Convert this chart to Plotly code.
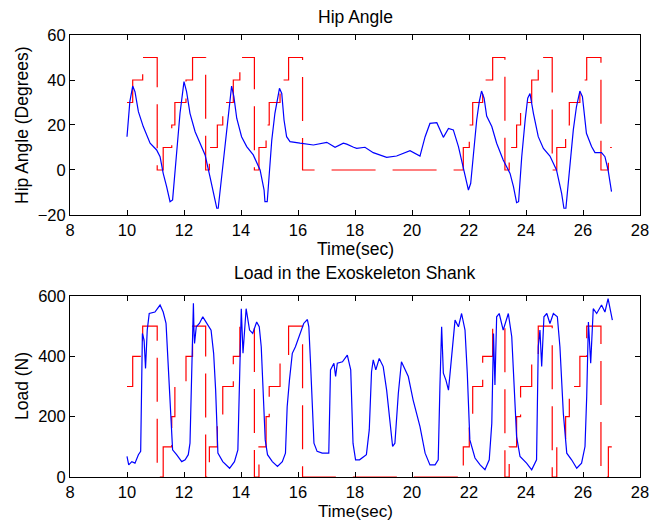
import plotly.graph_objects as go

# ---------------- data ----------------
# Hip angle (deg) vs time (s)
hip_t = [10.0, 10.05, 10.1, 10.2, 10.28, 10.4, 10.57, 10.81, 11.04, 11.16, 11.27, 11.39, 11.51, 11.6,
         11.68, 11.77, 11.86, 12.0, 12.09, 12.21, 12.39, 12.56, 12.74, 12.91, 13.09, 13.15, 13.2,
         13.32, 13.44, 13.56, 13.67, 13.75, 13.85, 14.02, 14.2, 14.43, 14.67, 14.81, 14.84, 14.92,
         14.99, 15.08, 15.19, 15.35, 15.43, 15.51, 15.6, 15.72, 16.07, 16.54, 17.01, 17.3, 17.59,
         17.71, 17.95, 18.06, 18.35, 18.64, 19.11, 19.46, 19.93, 20.28, 20.46, 20.63, 20.87, 20.98,
         21.1, 21.28, 21.45, 21.63, 21.8, 21.98, 22.06, 22.15, 22.27, 22.36, 22.44, 22.53, 22.62,
         22.8, 22.97, 23.2, 23.44, 23.56, 23.67, 23.74, 23.85, 23.97, 24.06, 24.14, 24.26, 24.43,
         24.61, 24.84, 25.07, 25.25, 25.33, 25.4, 25.54, 25.66, 25.77, 25.89, 25.98, 26.12, 26.3,
         26.42, 26.65, 26.77, 26.88, 27.0]
hip_deg = [14.8, 23.7, 30.4, 37.3, 34.8, 25.9, 19.3, 11.9, 8.9, 5.9, -1.5, -7.4, -14.1, -13.3,
           -3.0, 11.9, 25.2, 39.3, 34.8, 25.2, 17.0, 11.9, 6.7, -3.0, -13.3, -17.0, -17.0,
           -3.0, 13.3, 26.7, 37.3, 32.6, 23.0, 14.8, 10.4, 6.7, 0.0, -8.9, -14.1, -14.1,
           -1.5, 13.3, 25.2, 36.3, 34.0, 22.2, 14.8, 12.6, 11.9, 11.1, 12.3, 10.1, 11.9,
           11.5, 10.1, 9.6, 10.1, 7.7, 5.6, 6.2, 8.6, 6.2, 14.8, 20.7, 21.0, 17.8,
           14.5, 18.5, 17.8, 10.4, 1.5, -8.9, -5.9, 5.9, 22.2, 30.4, 35.1, 31.9, 24.0,
           19.3, 11.9, 4.4, -1.5, -7.4, -14.5, -14.1, 5.9, 22.2, 31.9, 34.0, 25.2, 14.8,
           9.6, 6.2, 0.0, -10.4, -17.0, -17.0, 3.0, 17.8, 28.1, 35.1, 32.6, 16.3, 10.4,
           7.7, 7.7, 5.9, 0.0, -9.6]

# Commanded hip angle (step profile)
hip_cmd_t = [10.0, 10.2, 10.55, 11.06, 11.27, 11.57, 11.68, 12.07, 12.3, 12.76, 12.89, 13.17, 13.36,
             13.73, 13.96, 14.47, 14.63, 14.88, 14.99, 15.37, 15.67, 16.16, 21.8, 22.01, 22.13,
             22.48, 22.83, 23.26, 23.41, 23.67, 23.81, 24.2, 24.43, 24.92, 25.08, 25.39, 25.52,
             25.89, 26.13, 26.63, 26.89, 27.01]
hip_cmd = [30, 40, 50, 0, 10, 20, 30, 40, 50, 0, 10, 20, 30,
           40, 50, 0, 10, 20, 30, 40, 50, 0, 10, 20, 30,
           40, 50, 0, 10, 20, 30, 40, 50, 0, 10, 20, 30,
           40, 50, 0, 10, 10]

# Load in the exoskeleton shank (N)
load_t = [10.0, 10.06, 10.17, 10.28, 10.4, 10.48, 10.54, 10.6, 10.65, 10.71, 10.78, 10.98, 11.16,
          11.27, 11.37, 11.45, 11.51, 11.57, 11.6, 11.74, 11.92, 12.04, 12.15, 12.21, 12.27, 12.33,
          12.35, 12.37, 12.43, 12.54, 12.66, 12.78, 12.95, 13.04, 13.11, 13.19, 13.36, 13.6, 13.77,
          13.89, 13.95, 14.01, 14.07, 14.18, 14.3, 14.41, 14.55, 14.64, 14.71, 14.78, 14.85, 14.93,
          15.1, 15.28, 15.45, 15.56, 15.62, 15.7, 15.8, 15.91, 16.03, 16.2, 16.33, 16.38, 16.44,
          16.5, 16.56, 16.67, 16.85, 17.08, 17.14, 17.26, 17.32, 17.38, 17.56, 17.73, 17.85, 17.93,
          18.02, 18.16, 18.4, 18.5, 18.58, 18.64, 18.73, 18.85, 18.99, 19.11, 19.23, 19.32, 19.4,
          19.52, 19.63, 19.75, 19.87, 20.04, 20.28, 20.46, 20.63, 20.81, 20.92, 20.98, 21.04, 21.1,
          21.19, 21.28, 21.39, 21.51, 21.63, 21.74, 21.86, 21.94, 22.03, 22.21, 22.39, 22.56, 22.71,
          22.8, 22.86, 22.91, 22.97, 23.06, 23.2, 23.38, 23.5, 23.58, 23.67, 23.79, 24.02, 24.2,
          24.37, 24.43, 24.49, 24.55, 24.63, 24.73, 24.84, 24.96, 25.1, 25.19, 25.31, 25.43, 25.6,
          25.78, 25.95, 26.07, 26.13, 26.19, 26.27, 26.36, 26.48, 26.65, 26.77, 26.88, 26.96, 27.03]
load_n = [68, 40, 51, 46, 74, 85, 476, 454, 360, 487, 542, 547, 570,
          547, 509, 355, 266, 156, 90, 74, 51, 57, 74, 112, 377, 576,
          487, 443, 498, 509, 531, 514, 487, 410, 288, 79, 51, 29, 51,
          90, 377, 558, 410, 558, 487, 476, 514, 498, 432, 266, 123, 74,
          51, 35, 51, 79, 233, 321, 410, 432, 465, 509, 522, 498, 377,
          211, 112, 85, 79, 79, 355, 377, 333, 377, 382, 404, 355, 112,
          57, 57, 74, 156, 349, 388, 355, 393, 366, 288, 178, 101, 112,
          277, 382, 355, 333, 255, 167, 79, 40, 40, 57, 300, 498, 344,
          321, 288, 410, 520, 498, 542, 487, 344, 123, 63, 40, 24, 57,
          178, 476, 305, 531, 542, 487, 542, 465, 321, 134, 68, 46, 24,
          57, 432, 487, 366, 531, 542, 509, 542, 531, 432, 211, 79, 57,
          29, 46, 101, 266, 514, 377, 558, 542, 570, 547, 591, 553, 520]

# Commanded load (step profile)
load_cmd_t = hip_cmd_t
load_cmd = [300, 400, 500, 0, 100, 200, 300, 400, 500, 0, 100, 200, 300,
            400, 500, 0, 100, 200, 300, 400, 500, 0, 100, 200, 300,
            400, 500, 0, 100, 200, 300, 400, 500, 0, 100, 200, 300,
            400, 500, 0, 100, 100]

x_ticks = [8, 10, 12, 14, 16, 18, 20, 22, 24, 26, 28]
hip_ticks = [-20, 0, 20, 40, 60]
load_ticks = [0, 200, 400, 600]

# ---------------- figure ----------------
FONT = "Liberation Sans, Arial, sans-serif"
BLUE = "#0000ff"
RED = "#ff0000"
DASH = "44px,17px"

fig = go.Figure()
fig.add_trace(go.Scatter(x=hip_cmd_t, y=hip_cmd, mode="lines", line_shape="hv",
                         line=dict(color=RED, width=1.2, dash=DASH), xaxis="x", yaxis="y",
                         showlegend=False))
fig.add_trace(go.Scatter(x=hip_t, y=hip_deg, mode="lines",
                         line=dict(color=BLUE, width=1.2), xaxis="x", yaxis="y", showlegend=False))
fig.add_trace(go.Scatter(x=load_cmd_t, y=load_cmd, mode="lines", line_shape="hv",
                         line=dict(color=RED, width=1.2, dash=DASH), xaxis="x2", yaxis="y2",
                         showlegend=False))
fig.add_trace(go.Scatter(x=load_t, y=load_n, mode="lines",
                         line=dict(color=BLUE, width=1.2), xaxis="x2", yaxis="y2", showlegend=False))

axis_common = dict(showline=True, linecolor="black", linewidth=1, mirror="allticks",
                   ticks="inside", ticklen=5, tickcolor="black", tickwidth=1,
                   showgrid=False, zeroline=False,
                   tickfont=dict(family=FONT, size=16.5, color="black"))

# page has an 8px body margin, so the figure is sized to fit inside the window
fig.update_layout(
    width=654, height=517,
    margin=dict(l=62, r=22, t=27, b=48, autoexpand=False),
    paper_bgcolor="white", plot_bgcolor="white",
    font=dict(family=FONT, size=17, color="black"),
    xaxis=dict(domain=[0, 1], anchor="y", range=[8, 28], tickvals=x_ticks, **axis_common),
    yaxis=dict(domain=[0.5928, 1], anchor="x", range=[-20, 60], tickvals=hip_ticks, **axis_common),
    xaxis2=dict(domain=[0, 1], anchor="y2", range=[8, 28], tickvals=x_ticks, **axis_common),
    yaxis2=dict(domain=[0, 0.4095], anchor="x2", range=[0, 600], tickvals=load_ticks, **axis_common),
)

def ann(text, x, y, angle=0, size=17.5):
    fig.add_annotation(text=text, x=x, y=y, xref="paper", yref="paper", showarrow=False,
                       xanchor="center", yanchor="middle", textangle=angle, borderpad=0,
                       font=dict(family=FONT, size=size, color="black"))

ann("Hip Angle", 0.5, 1.041)
ann("Time(sec)", 0.5, 0.5160)
ann("Load in the Exoskeleton Shank", 0.5, 0.4615)
ann("Time(sec)", 0.5, -0.0775, size=17)
ann("Hip Angle (Degrees)", -0.0842, 0.7964, -90)
ann("Load (N)", -0.0842, 0.2059, -90)

fig.write_html("out.html")
